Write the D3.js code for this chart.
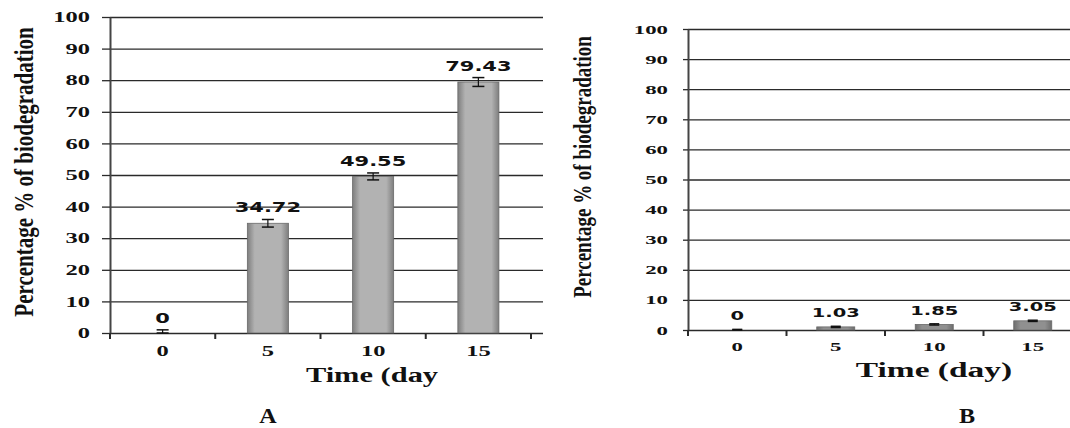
<!DOCTYPE html>
<html>
<head>
<meta charset="utf-8">
<script src="https://cdn.jsdelivr.net/npm/d3@7"></script>
<style>
  body { margin: 0; background: #fff; }
  text { fill: #111; }
</style>
</head>
<body>
<svg id="chart" width="1070" height="428"></svg>
<script>
// values
var days = ['0', '5', '10', '15'];
var valuesA = [0, 34.72, 49.55, 79.43];
var errorsA = [1.0, 1.2, 1.1, 1.4];
var valuesB = [0, 1.03, 1.85, 3.05];
var errorsB = [0.2, 0.2, 0.2, 0.2];
var yTicks = [0, 10, 20, 30, 40, 50, 60, 70, 80, 90, 100];
var labelsA = ['0', '34.72', '49.55', '79.43'];
var labelsB = ['0', '1.03', '1.85', '3.05'];

// the original picture is stretched sideways, so text is too
var SX = 1.5;

var svg = d3.select('#chart');
var defs = svg.append('defs');

function addGradient(id, edge, mid) {
  var grad = defs.append('linearGradient')
    .attr('id', id)
    .attr('x1', '0%').attr('x2', '100%')
    .attr('y1', '0%').attr('y2', '0%');
  grad.append('stop').attr('offset', '0%').attr('stop-color', edge);
  grad.append('stop').attr('offset', '18%').attr('stop-color', mid);
  grad.append('stop').attr('offset', '82%').attr('stop-color', mid);
  grad.append('stop').attr('offset', '100%').attr('stop-color', edge);
}
addGradient('barA', '#7e7e7e', '#b2b2b2');
addGradient('barB', '#6e6e6e', '#909090');

function drawPanel(p) {
  var x = d3.scaleBand()
    .domain(days)
    .range([p.left, p.right]);

  var y = d3.scaleLinear()
    .domain([0, 100])
    .range([p.bottom, p.top]);

  var g = svg.append('g');

  // gridlines
  var grid = d3.axisRight(y)
    .tickValues(yTicks)
    .tickSize(p.gridRight - p.left)
    .tickFormat('');

  g.append('g')
    .attr('transform', 'translate(' + p.left + ',0)')
    .call(grid)
    .call(s => s.select('.domain').remove())
    .selectAll('line')
    .attr('stroke', '#2a2a2a')
    .attr('stroke-width', 1.3);

  // y axis
  var yAxis = d3.axisLeft(y)
    .tickValues(yTicks)
    .tickSize(p.tickOut)
    .tickSizeOuter(0);

  var ya = g.append('g')
    .attr('transform', 'translate(' + p.left + ',0)')
    .call(yAxis);
  ya.select('.domain').attr('stroke', '#444').attr('stroke-width', 2);
  ya.selectAll('line').attr('stroke', '#2a2a2a').attr('stroke-width', 1.3);
  ya.selectAll('text')
    .attr('x', 0)
    .attr('dy', '0.34em')
    .attr('transform', 'translate(' + (-p.labelGap) + ',0) scale(' + p.tickSX + ',1)')
    .style('font-family', 'Liberation Serif')
    .style('font-weight', 'bold')
    .style('font-size', p.tickFont + 'px')
    .style('fill', '#111');

  // x axis labels at band centres
  var xAxis = d3.axisBottom(x)
    .tickSize(0)
    .tickSizeOuter(0);

  var xa = g.append('g')
    .attr('transform', 'translate(0,' + p.bottom + ')')
    .call(xAxis);
  xa.select('.domain').remove();
  xa.selectAll('text')
    .attr('y', 0)
    .attr('dy', 0)
    .attr('transform', 'translate(0,' + (p.xLabelY - p.bottom) + ') scale(' + p.tickSX + ',1)')
    .style('font-family', 'Liberation Serif')
    .style('font-weight', 'bold')
    .style('font-size', p.tickFont + 'px')
    .style('fill', '#111');

  // x tick marks on the band edges
  var edges = days.map(d => x(d)).concat([x.range()[1]]);
  g.selectAll('.xtick')
    .data(edges)
    .enter()
    .append('line')
    .attr('x1', d => d).attr('x2', d => d)
    .attr('y1', p.bottom).attr('y2', p.bottom + 6)
    .attr('stroke', '#2a2a2a')
    .attr('stroke-width', 2);

  var barW = x.bandwidth() * p.barFrac;

  // bars
  g.selectAll('.bar')
    .data(p.values)
    .enter()
    .append('rect')
    .attr('x', (d, i) => x(days[i]) + (x.bandwidth() - barW) / 2)
    .attr('y', d => y(d))
    .attr('width', barW)
    .attr('height', d => y(0) - y(d))
    .attr('fill', 'url(#' + p.grad + ')')
    .attr('stroke', '#6a6a6a')
    .attr('stroke-width', 0.8);

  // error bars
  var cx = i => x(days[i]) + x.bandwidth() / 2;
  var eb = g.selectAll('.err')
    .data(p.values)
    .enter()
    .append('g');
  eb.append('line')
    .attr('x1', (d, i) => cx(i)).attr('x2', (d, i) => cx(i))
    .attr('y1', (d, i) => y(Math.max(0, d - p.errors[i])))
    .attr('y2', (d, i) => y(d + p.errors[i]))
    .attr('stroke', '#111').attr('stroke-width', 1.2);
  eb.append('line')
    .attr('x1', (d, i) => cx(i) - p.cap / 2).attr('x2', (d, i) => cx(i) + p.cap / 2)
    .attr('y1', (d, i) => y(d + p.errors[i]))
    .attr('y2', (d, i) => y(d + p.errors[i]))
    .attr('stroke', '#111').attr('stroke-width', 1.5);
  eb.append('line')
    .attr('x1', (d, i) => cx(i) - p.cap / 2).attr('x2', (d, i) => cx(i) + p.cap / 2)
    .attr('y1', (d, i) => y(Math.max(0, d - p.errors[i])))
    .attr('y2', (d, i) => y(Math.max(0, d - p.errors[i])))
    .attr('stroke', '#111').attr('stroke-width', 1.5);

  // value labels
  g.selectAll('.val')
    .data(p.values)
    .enter()
    .append('text')
    .attr('text-anchor', 'middle')
    .attr('transform', (d, i) => 'translate(' + cx(i) + ',' + (y(d + p.errors[i]) - p.valGap) + ') scale(' + SX + ',1)')
    .style('font-family', 'DejaVu Sans')
    .style('font-weight', 'bold')
    .style('font-size', p.valFont + 'px')
    .text((d, i) => p.labels[i]);

  // y title
  g.append('text')
    .attr('text-anchor', 'middle')
    .attr('transform', 'translate(' + p.yTitleX + ',' + p.yTitleY + ') rotate(-90) scale(1,1.3)')
    .style('font-family', 'Liberation Serif')
    .style('font-weight', 'bold')
    .style('font-size', p.yTitleFont + 'px')
    .text('Percentage % of biodegradation');

  // x title
  g.append('text')
    .attr('text-anchor', 'middle')
    .attr('transform', 'translate(' + p.xTitleX + ',' + p.xTitleY + ') scale(' + p.xTitleSX + ',1)')
    .style('font-family', 'Liberation Serif')
    .style('font-weight', 'bold')
    .style('font-size', p.xTitleFont + 'px')
    .text(p.xTitle);

  // panel letter
  g.append('text')
    .attr('text-anchor', 'middle')
    .attr('transform', 'translate(' + p.letterX + ',423) scale(1.15,1)')
    .style('font-family', 'Liberation Serif')
    .style('font-weight', 'bold')
    .style('font-size', '21px')
    .text(p.letter);
}

drawPanel({
  values: valuesA, errors: errorsA, labels: labelsA, grad: 'barA',
  left: 110, right: 531, top: 17, bottom: 333, gridRight: 543,
  tickOut: 8, labelGap: 20, tickFont: 14, tickSX: 1.75, xLabelY: 356,
  barFrac: 0.39, cap: 12, valFont: 14, valGap: 7,
  yTitleX: 33, yTitleY: 172, yTitleFont: 21,
  xTitle: 'Time (day', xTitleX: 372, xTitleY: 382, xTitleFont: 21, xTitleSX: 1.45,
  letter: 'A', letterX: 268
});

drawPanel({
  values: valuesB, errors: errorsB, labels: labelsB, grad: 'barB',
  left: 688, right: 1082, top: 29, bottom: 330, gridRight: 1082,
  tickOut: 5, labelGap: 20, tickFont: 12, tickSX: 1.9, xLabelY: 351,
  barFrac: 0.386, cap: 10, valFont: 13, valGap: 9,
  yTitleX: 591, yTitleY: 167, yTitleFont: 19,
  xTitle: 'Time (day)', xTitleX: 934, xTitleY: 377, xTitleFont: 22, xTitleSX: 1.52,
  letter: 'B', letterX: 967
});
</script>
</body>
</html>
